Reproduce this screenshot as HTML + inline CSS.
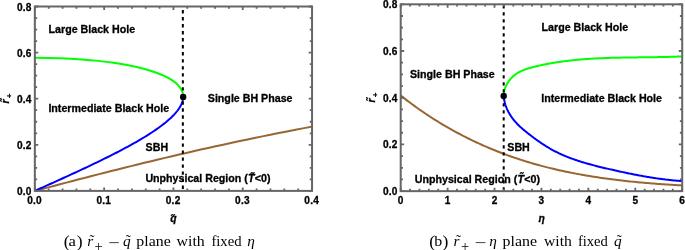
<!DOCTYPE html>
<html><head><meta charset="utf-8"><title>phase diagrams</title>
<style>
html,body{margin:0;padding:0;background:#fff;}
svg{display:block;}
.b{font-family:"Liberation Sans",sans-serif;font-weight:bold;fill:#000;stroke:#000;stroke-width:0.3px;}
.s{font-family:"Liberation Serif",serif;fill:#000;}
.i{font-style:italic;}
</style></head><body>
<svg width="685" height="250" viewBox="0 0 685 250">
<rect width="685" height="250" fill="#fff"/>
<clipPath id="c1"><rect x="34.85" y="6.5" width="277.2" height="184.4"/></clipPath>
<g clip-path="url(#c1)" fill="none" stroke-width="2.0" stroke-linejoin="round">
<path d="M34.85,190.90 L41.13,189.25 L47.41,187.60 L53.69,185.94 L59.99,184.29 L66.30,182.64 L72.63,180.99 L78.98,179.34 L85.36,177.68 L91.76,176.03 L98.20,174.38 L104.67,172.73 L111.18,171.08 L117.73,169.43 L124.32,167.77 L130.97,166.12 L137.67,164.47 L144.42,162.82 L151.23,161.17 L158.10,159.51 L165.04,157.86 L172.04,156.21 L179.11,154.56 L186.26,152.91 L193.48,151.25 L200.78,149.60 L208.17,147.95 L215.64,146.30 L223.19,144.65 L230.83,142.99 L238.57,141.34 L246.40,139.69 L254.32,138.04 L262.35,136.39 L270.48,134.73 L278.71,133.08 L287.04,131.43 L295.49,129.78 L304.04,128.13 L312.70,126.48" stroke="#996633"/>
<path d="M183.16,96.69 L183.15,96.20 L183.12,95.70 L183.08,95.21 L183.02,94.72 L182.95,94.22 L182.85,93.73 L182.74,93.24 L182.61,92.74 L182.46,92.25 L182.29,91.75 L182.11,91.26 L181.90,90.77 L181.67,90.27 L181.43,89.78 L181.16,89.28 L180.87,88.79 L180.56,88.30 L180.23,87.80 L179.87,87.31 L179.50,86.81 L179.10,86.32 L178.67,85.83 L178.22,85.33 L177.75,84.84 L177.25,84.34 L176.73,83.85 L176.18,83.36 L175.60,82.86 L174.99,82.37 L174.36,81.87 L173.69,81.38 L173.00,80.89 L172.27,80.39 L171.52,79.90 L170.73,79.40 L169.91,78.91 L169.05,78.42 L168.16,77.92 L167.23,77.43 L166.27,76.93 L165.26,76.44 L164.22,75.95 L163.14,75.45 L162.01,74.96 L160.84,74.47 L159.62,73.97 L158.36,73.48 L157.04,72.98 L155.68,72.49 L154.26,72.00 L152.79,71.50 L151.25,71.01 L149.66,70.51 L148.00,70.02 L146.28,69.53 L144.48,69.03 L142.61,68.54 L140.66,68.04 L138.63,67.55 L136.50,67.06 L134.28,66.56 L131.95,66.07 L129.52,65.57 L126.96,65.08 L124.27,64.59 L121.44,64.09 L118.45,63.60 L115.27,63.10 L111.90,62.61 L108.30,62.12 L104.43,61.62 L100.24,61.13 L95.68,60.63 L90.64,60.14 L84.99,59.65 L78.47,59.15 L70.64,58.66 L60.27,58.16 L34.85,57.67" stroke="#00ff00"/>
<path d="M34.85,190.90 L37.50,189.71 L40.16,188.52 L42.81,187.32 L45.46,186.13 L48.11,184.94 L50.76,183.75 L53.40,182.55 L56.03,181.36 L58.67,180.17 L61.29,178.98 L63.91,177.78 L66.52,176.59 L69.13,175.40 L71.73,174.21 L74.31,173.01 L76.89,171.82 L79.46,170.63 L82.01,169.44 L84.56,168.24 L87.09,167.05 L89.61,165.86 L92.11,164.67 L94.60,163.47 L97.08,162.28 L99.54,161.09 L101.98,159.90 L104.41,158.70 L106.81,157.51 L109.20,156.32 L111.57,155.13 L113.92,153.93 L116.25,152.74 L118.55,151.55 L120.83,150.36 L123.09,149.16 L125.33,147.97 L127.54,146.78 L129.72,145.59 L131.88,144.39 L134.01,143.20 L136.11,142.01 L138.18,140.82 L140.22,139.62 L142.22,138.43 L144.20,137.24 L146.14,136.05 L148.05,134.85 L149.92,133.66 L151.76,132.47 L153.56,131.28 L155.32,130.08 L157.04,128.89 L158.72,127.70 L160.35,126.51 L161.95,125.31 L163.50,124.12 L165.00,122.93 L166.46,121.74 L167.86,120.54 L169.22,119.35 L170.53,118.16 L171.78,116.97 L172.98,115.77 L174.12,114.58 L175.20,113.39 L176.23,112.20 L177.19,111.00 L178.09,109.81 L178.92,108.62 L179.69,107.43 L180.39,106.23 L181.01,105.04 L181.56,103.85 L182.04,102.66 L182.43,101.46 L182.74,100.27 L182.97,99.08 L183.11,97.89 L183.16,96.69" stroke="#0000ff"/>
</g>
<path d="M182.85,10.0V190.9" stroke="#000" stroke-width="2.0" stroke-dasharray="3.4 3.62" fill="none"/>
<circle cx="183.16" cy="96.89" r="3.2" fill="#000"/>
<path d="M34.85,190.90v-3.4M34.85,6.50v3.4M48.71,190.90v-2.3M48.71,6.50v2.3M62.57,190.90v-2.3M62.57,6.50v2.3M76.43,190.90v-2.3M76.43,6.50v2.3M90.29,190.90v-2.3M90.29,6.50v2.3M104.15,190.90v-3.4M104.15,6.50v3.4M118.01,190.90v-2.3M118.01,6.50v2.3M131.87,190.90v-2.3M131.87,6.50v2.3M145.73,190.90v-2.3M145.73,6.50v2.3M159.59,190.90v-2.3M159.59,6.50v2.3M173.45,190.90v-3.4M173.45,6.50v3.4M187.31,190.90v-2.3M187.31,6.50v2.3M201.17,190.90v-2.3M201.17,6.50v2.3M215.03,190.90v-2.3M215.03,6.50v2.3M228.89,190.90v-2.3M228.89,6.50v2.3M242.75,190.90v-3.4M242.75,6.50v3.4M256.61,190.90v-2.3M256.61,6.50v2.3M270.47,190.90v-2.3M270.47,6.50v2.3M284.33,190.90v-2.3M284.33,6.50v2.3M298.19,190.90v-2.3M298.19,6.50v2.3M312.05,190.90v-3.4M312.05,6.50v3.4M34.85,190.90h3.4M312.05,190.90h-3.4M34.85,179.38h2.3M312.05,179.38h-2.3M34.85,167.85h2.3M312.05,167.85h-2.3M34.85,156.32h2.3M312.05,156.32h-2.3M34.85,144.80h3.4M312.05,144.80h-3.4M34.85,133.28h2.3M312.05,133.28h-2.3M34.85,121.75h2.3M312.05,121.75h-2.3M34.85,110.22h2.3M312.05,110.22h-2.3M34.85,98.70h3.4M312.05,98.70h-3.4M34.85,87.17h2.3M312.05,87.17h-2.3M34.85,75.65h2.3M312.05,75.65h-2.3M34.85,64.12h2.3M312.05,64.12h-2.3M34.85,52.60h3.4M312.05,52.60h-3.4M34.85,41.07h2.3M312.05,41.07h-2.3M34.85,29.55h2.3M312.05,29.55h-2.3M34.85,18.03h2.3M312.05,18.03h-2.3M34.85,6.50h3.4M312.05,6.50h-3.4" stroke="#666666" stroke-width="1.8" fill="none"/>
<rect x="34.85" y="6.50" width="277.20" height="184.40" fill="none" stroke="#666666" stroke-width="2.0"/>
<text class="b" font-size="10.1" letter-spacing="0.25" text-anchor="end" x="31.75" y="194.90">0.0</text>
<text class="b" font-size="10.1" letter-spacing="0.25" text-anchor="end" x="31.75" y="148.80">0.2</text>
<text class="b" font-size="10.1" letter-spacing="0.25" text-anchor="end" x="31.75" y="102.70">0.4</text>
<text class="b" font-size="10.1" letter-spacing="0.25" text-anchor="end" x="31.75" y="56.60">0.6</text>
<text class="b" font-size="10.1" letter-spacing="0.25" text-anchor="end" x="31.75" y="10.50">0.8</text>
<text class="b" font-size="10.1" letter-spacing="0.25" text-anchor="middle" x="34.55" y="203.5">0.0</text>
<text class="b" font-size="10.1" letter-spacing="0.25" text-anchor="middle" x="103.85" y="203.5">0.1</text>
<text class="b" font-size="10.1" letter-spacing="0.25" text-anchor="middle" x="173.15" y="203.5">0.2</text>
<text class="b" font-size="10.1" letter-spacing="0.25" text-anchor="middle" x="242.45" y="203.5">0.3</text>
<text class="b" font-size="10.1" letter-spacing="0.25" text-anchor="middle" x="311.75" y="203.5">0.4</text>
<text class="b" font-size="10.67" x="48.6" y="33.0">Large Black Hole</text>
<text class="b" font-size="10.67" x="48.4" y="111.9">Intermediate Black Hole</text>
<text class="b" font-size="10.67" x="207.8" y="102.3">Single BH Phase</text>
<text class="b" font-size="10.67" x="145.6" y="150.9">SBH</text>
<text class="b" font-size="10.67" x="145.4" y="182.4">Unphysical Region (<tspan class="i" dx="0.2">T</tspan><tspan dx="0.3">&lt;0)</tspan></text>
<text class="b i" font-size="9.5" x="250.3" y="178.6">&#732;</text>
<text class="b i" font-size="10.4" text-anchor="middle" x="173.5" y="221.7">q</text>
<text class="b i" font-size="10.4" text-anchor="middle" x="172.3" y="221.5">&#732;</text>
<g transform="translate(8.6,103.4) rotate(-90)"><text class="b i" font-size="10.4" x="0" y="0">r<tspan font-size="8.0" dy="3.8" dx="1.1" font-style="normal">+</tspan></text><text class="b i" font-size="8.5" x="1.4" y="-1.5">&#732;</text></g>
<clipPath id="c2"><rect x="400.7" y="4.3" width="281.50000000000006" height="186.85"/></clipPath>
<g clip-path="url(#c2)" fill="none" stroke-width="2.0" stroke-linejoin="round">
<path d="M400.83,95.60 L402.42,96.86 L404.01,98.12 L405.62,99.36 L407.22,100.59 L408.84,101.81 L410.46,103.03 L412.08,104.23 L413.72,105.43 L415.36,106.62 L417.00,107.79 L418.65,108.96 L420.31,110.12 L421.97,111.27 L423.64,112.41 L425.31,113.54 L427.00,114.66 L428.68,115.78 L430.37,116.88 L432.07,117.97 L433.77,119.06 L435.48,120.13 L437.20,121.20 L438.91,122.25 L440.64,123.30 L442.37,124.34 L444.10,125.37 L445.85,126.39 L447.59,127.39 L449.34,128.39 L451.10,129.38 L452.86,130.37 L454.63,131.34 L456.40,132.30 L458.17,133.25 L459.95,134.19 L461.74,135.13 L463.53,136.05 L465.32,136.97 L467.12,137.87 L468.93,138.77 L470.74,139.65 L472.55,140.53 L474.37,141.39 L476.19,142.25 L478.02,143.10 L479.85,143.94 L481.69,144.76 L483.53,145.58 L485.37,146.39 L487.22,147.19 L489.07,147.98 L490.93,148.76 L492.79,149.53 L494.65,150.29 L496.52,151.04 L498.39,151.78 L500.27,152.51 L502.15,153.23 L504.03,153.95 L505.92,154.65 L507.81,155.34 L509.70,156.02 L511.60,156.70 L513.50,157.36 L515.41,158.01 L517.31,158.65 L519.23,159.29 L521.14,159.91 L523.06,160.52 L524.98,161.13 L526.90,161.72 L528.83,162.31 L530.76,162.88 L532.70,163.44 L534.63,164.00 L536.57,164.55 L538.51,165.08 L540.46,165.61 L542.41,166.13 L544.36,166.64 L546.31,167.14 L548.26,167.63 L550.22,168.11 L552.18,168.59 L554.14,169.05 L556.11,169.51 L558.07,169.96 L560.04,170.40 L562.01,170.83 L563.98,171.26 L565.96,171.67 L567.93,172.08 L569.91,172.48 L571.89,172.88 L573.87,173.26 L575.86,173.64 L577.84,174.02 L579.83,174.38 L581.81,174.74 L583.80,175.09 L585.79,175.43 L587.78,175.77 L589.78,176.10 L591.77,176.42 L593.76,176.74 L595.76,177.05 L597.76,177.35 L599.75,177.65 L601.75,177.94 L603.75,178.22 L605.75,178.50 L607.75,178.77 L609.75,179.04 L611.75,179.30 L613.76,179.56 L615.76,179.81 L617.76,180.05 L619.77,180.29 L621.77,180.53 L623.78,180.75 L625.79,180.98 L627.79,181.20 L629.80,181.41 L631.80,181.62 L633.81,181.82 L635.82,182.02 L637.83,182.21 L639.83,182.40 L641.84,182.59 L643.85,182.77 L645.86,182.94 L647.86,183.11 L649.87,183.28 L651.88,183.45 L653.89,183.61 L655.89,183.76 L657.90,183.91 L659.91,184.06 L661.91,184.20 L663.92,184.35 L665.92,184.48 L667.93,184.62 L669.93,184.75 L671.94,184.87 L673.94,185.00 L675.94,185.12 L677.95,185.24 L679.95,185.35 L681.95,185.46" stroke="#996633"/>
<path d="M503.67,95.84 L503.70,94.86 L503.77,93.87 L503.89,92.90 L504.04,91.93 L504.24,90.97 L504.48,90.01 L504.76,89.07 L505.07,88.14 L505.42,87.22 L505.80,86.32 L506.21,85.42 L506.66,84.55 L507.14,83.68 L507.65,82.84 L508.19,82.01 L508.75,81.20 L509.34,80.41 L509.96,79.63 L510.60,78.88 L511.27,78.16 L511.95,77.45 L512.66,76.77 L513.38,76.11 L514.13,75.48 L514.89,74.87 L515.67,74.30 L516.46,73.74 L517.27,73.22 L518.09,72.72 L518.92,72.24 L519.77,71.79 L520.63,71.35 L521.50,70.94 L522.37,70.55 L523.26,70.18 L524.16,69.82 L525.07,69.48 L525.98,69.15 L526.91,68.84 L527.83,68.54 L528.77,68.26 L529.70,67.98 L530.65,67.72 L531.59,67.46 L532.54,67.21 L533.49,66.97 L534.45,66.73 L535.40,66.50 L536.36,66.27 L537.31,66.05 L538.27,65.83 L539.22,65.62 L540.18,65.40 L541.13,65.20 L542.09,64.99 L543.05,64.79 L544.01,64.59 L544.97,64.40 L545.92,64.21 L546.88,64.03 L547.84,63.84 L548.80,63.67 L549.76,63.49 L550.73,63.32 L551.69,63.15 L552.65,62.98 L553.61,62.82 L554.57,62.66 L555.54,62.51 L556.50,62.36 L557.46,62.21 L558.43,62.06 L559.39,61.92 L560.36,61.78 L561.32,61.65 L562.29,61.51 L563.25,61.38 L564.22,61.25 L565.19,61.13 L566.15,61.01 L567.12,60.89 L568.09,60.77 L569.06,60.66 L570.03,60.55 L570.99,60.44 L571.96,60.34 L572.93,60.23 L573.90,60.13 L574.87,60.04 L575.84,59.94 L576.81,59.85 L577.78,59.76 L578.75,59.67 L579.72,59.58 L580.70,59.50 L581.67,59.42 L582.64,59.34 L583.61,59.27 L584.58,59.19 L585.56,59.12 L586.53,59.05 L587.50,58.98 L588.48,58.92 L589.45,58.85 L590.42,58.79 L591.40,58.73 L592.37,58.67 L593.34,58.61 L594.32,58.56 L595.29,58.51 L596.27,58.46 L597.24,58.41 L598.22,58.36 L599.19,58.31 L600.17,58.27 L601.15,58.22 L602.12,58.18 L603.10,58.14 L604.07,58.10 L605.05,58.07 L606.03,58.03 L607.00,58.00 L607.98,57.96 L608.96,57.93 L609.93,57.90 L610.91,57.87 L611.89,57.84 L612.86,57.81 L613.84,57.79 L614.82,57.76 L615.80,57.74 L616.77,57.72 L617.75,57.69 L618.73,57.67 L619.71,57.65 L620.68,57.63 L621.66,57.61 L622.64,57.59 L623.62,57.57 L624.59,57.56 L625.57,57.54 L626.55,57.53 L627.53,57.51 L628.51,57.50 L629.48,57.48 L630.46,57.47 L631.44,57.45 L632.42,57.44 L633.40,57.43 L634.37,57.42 L635.35,57.40 L636.33,57.39 L637.31,57.38 L638.29,57.37 L639.26,57.36 L640.24,57.34 L641.22,57.33 L642.20,57.32 L643.17,57.31 L644.15,57.30 L645.13,57.29 L646.11,57.28 L647.08,57.26 L648.06,57.25 L649.04,57.24 L650.02,57.23 L650.99,57.21 L651.97,57.20 L652.95,57.19 L653.92,57.17 L654.90,57.16 L655.88,57.14 L656.85,57.13 L657.83,57.11 L658.80,57.09 L659.78,57.08 L660.76,57.06 L661.73,57.04 L662.71,57.02 L663.68,57.00 L664.66,56.98 L665.63,56.95 L666.61,56.93 L667.58,56.91 L668.56,56.88 L669.53,56.85 L670.50,56.83 L671.48,56.80 L672.45,56.77 L673.42,56.74 L674.40,56.71 L675.37,56.67 L676.34,56.64 L677.32,56.60 L678.29,56.57 L679.26,56.53 L680.23,56.49 L681.20,56.45 L682.17,56.40" stroke="#00ff00"/>
<path d="M503.68,95.68 L503.78,96.79 L503.90,97.88 L504.05,98.96 L504.23,100.03 L504.44,101.08 L504.68,102.13 L504.95,103.16 L505.24,104.19 L505.55,105.20 L505.89,106.19 L506.26,107.18 L506.65,108.16 L507.06,109.12 L507.50,110.07 L507.96,111.01 L508.43,111.94 L508.93,112.86 L509.45,113.76 L509.99,114.66 L510.55,115.54 L511.13,116.41 L511.73,117.27 L512.34,118.12 L512.97,118.95 L513.62,119.77 L514.28,120.58 L514.95,121.38 L515.64,122.17 L516.35,122.95 L517.07,123.71 L517.80,124.46 L518.54,125.21 L519.29,125.94 L520.06,126.66 L520.83,127.37 L521.61,128.08 L522.40,128.77 L523.20,129.46 L524.01,130.14 L524.82,130.82 L525.64,131.49 L526.46,132.15 L527.29,132.81 L528.12,133.46 L528.96,134.12 L529.80,134.76 L530.64,135.41 L531.48,136.05 L532.33,136.69 L533.18,137.33 L534.03,137.96 L534.88,138.59 L535.74,139.21 L536.60,139.84 L537.46,140.45 L538.32,141.07 L539.19,141.68 L540.06,142.28 L540.93,142.88 L541.81,143.47 L542.69,144.06 L543.57,144.64 L544.45,145.21 L545.34,145.78 L546.24,146.34 L547.13,146.89 L548.04,147.43 L548.94,147.97 L549.85,148.50 L550.76,149.02 L551.68,149.53 L552.60,150.04 L553.52,150.53 L554.45,151.02 L555.38,151.50 L556.32,151.97 L557.26,152.44 L558.20,152.90 L559.14,153.34 L560.09,153.79 L561.05,154.22 L562.00,154.65 L562.96,155.07 L563.92,155.49 L564.89,155.89 L565.86,156.30 L566.83,156.69 L567.80,157.08 L568.78,157.46 L569.76,157.84 L570.74,158.21 L571.72,158.57 L572.71,158.93 L573.70,159.29 L574.69,159.63 L575.69,159.98 L576.68,160.31 L577.68,160.65 L578.68,160.97 L579.68,161.30 L580.69,161.61 L581.69,161.93 L582.70,162.24 L583.71,162.54 L584.72,162.84 L585.74,163.14 L586.75,163.43 L587.77,163.72 L588.78,164.01 L589.80,164.29 L590.82,164.57 L591.84,164.84 L592.86,165.11 L593.89,165.38 L594.91,165.65 L595.93,165.91 L596.96,166.17 L597.99,166.43 L599.01,166.68 L600.04,166.94 L601.07,167.19 L602.10,167.44 L603.13,167.68 L604.16,167.93 L605.19,168.17 L606.22,168.41 L607.25,168.65 L608.28,168.89 L609.31,169.13 L610.34,169.37 L611.36,169.60 L612.39,169.84 L613.42,170.07 L614.45,170.30 L615.48,170.53 L616.51,170.76 L617.54,170.99 L618.57,171.22 L619.60,171.45 L620.63,171.67 L621.66,171.89 L622.69,172.12 L623.72,172.34 L624.75,172.56 L625.78,172.77 L626.81,172.99 L627.84,173.20 L628.87,173.42 L629.90,173.63 L630.93,173.84 L631.96,174.04 L632.99,174.25 L634.02,174.45 L635.05,174.65 L636.09,174.85 L637.12,175.05 L638.15,175.25 L639.18,175.44 L640.22,175.63 L641.25,175.82 L642.28,176.01 L643.32,176.19 L644.35,176.38 L645.39,176.56 L646.42,176.74 L647.46,176.91 L648.50,177.08 L649.53,177.26 L650.57,177.42 L651.61,177.59 L652.65,177.75 L653.69,177.91 L654.73,178.07 L655.77,178.23 L656.81,178.38 L657.85,178.53 L658.90,178.67 L659.94,178.82 L660.98,178.96 L662.03,179.10 L663.07,179.23 L664.12,179.36 L665.17,179.49 L666.21,179.62 L667.26,179.74 L668.31,179.86 L669.36,179.98 L670.41,180.09 L671.47,180.20 L672.52,180.31 L673.57,180.41 L674.63,180.51 L675.68,180.60 L676.74,180.70 L677.80,180.79 L678.86,180.87 L679.91,180.95 L680.98,181.03 L682.04,181.11" stroke="#0000ff"/>
</g>
<path d="M503.7,5.15V191.15" stroke="#000" stroke-width="2.0" stroke-dasharray="3.4 3.6" fill="none"/>
<circle cx="503.7" cy="95.9" r="3.2" fill="#000"/>
<path d="M400.70,191.15v-3.4M400.70,4.30v3.4M410.08,191.15v-2.3M410.08,4.30v2.3M419.47,191.15v-2.3M419.47,4.30v2.3M428.85,191.15v-2.3M428.85,4.30v2.3M438.23,191.15v-2.3M438.23,4.30v2.3M447.62,191.15v-3.4M447.62,4.30v3.4M457.00,191.15v-2.3M457.00,4.30v2.3M466.38,191.15v-2.3M466.38,4.30v2.3M475.77,191.15v-2.3M475.77,4.30v2.3M485.15,191.15v-2.3M485.15,4.30v2.3M494.53,191.15v-3.4M494.53,4.30v3.4M503.92,191.15v-2.3M503.92,4.30v2.3M513.30,191.15v-2.3M513.30,4.30v2.3M522.68,191.15v-2.3M522.68,4.30v2.3M532.07,191.15v-2.3M532.07,4.30v2.3M541.45,191.15v-3.4M541.45,4.30v3.4M550.83,191.15v-2.3M550.83,4.30v2.3M560.22,191.15v-2.3M560.22,4.30v2.3M569.60,191.15v-2.3M569.60,4.30v2.3M578.98,191.15v-2.3M578.98,4.30v2.3M588.37,191.15v-3.4M588.37,4.30v3.4M597.75,191.15v-2.3M597.75,4.30v2.3M607.13,191.15v-2.3M607.13,4.30v2.3M616.52,191.15v-2.3M616.52,4.30v2.3M625.90,191.15v-2.3M625.90,4.30v2.3M635.28,191.15v-3.4M635.28,4.30v3.4M644.67,191.15v-2.3M644.67,4.30v2.3M654.05,191.15v-2.3M654.05,4.30v2.3M663.43,191.15v-2.3M663.43,4.30v2.3M672.82,191.15v-2.3M672.82,4.30v2.3M682.20,191.15v-3.4M682.20,4.30v3.4M400.70,191.15h3.4M682.20,191.15h-3.4M400.70,179.47h2.3M682.20,179.47h-2.3M400.70,167.79h2.3M682.20,167.79h-2.3M400.70,156.12h2.3M682.20,156.12h-2.3M400.70,144.44h3.4M682.20,144.44h-3.4M400.70,132.76h2.3M682.20,132.76h-2.3M400.70,121.08h2.3M682.20,121.08h-2.3M400.70,109.40h2.3M682.20,109.40h-2.3M400.70,97.73h3.4M682.20,97.73h-3.4M400.70,86.05h2.3M682.20,86.05h-2.3M400.70,74.37h2.3M682.20,74.37h-2.3M400.70,62.69h2.3M682.20,62.69h-2.3M400.70,51.01h3.4M682.20,51.01h-3.4M400.70,39.33h2.3M682.20,39.33h-2.3M400.70,27.66h2.3M682.20,27.66h-2.3M400.70,15.98h2.3M682.20,15.98h-2.3M400.70,4.30h3.4M682.20,4.30h-3.4" stroke="#666666" stroke-width="1.8" fill="none"/>
<rect x="400.70" y="4.30" width="281.50" height="186.85" fill="none" stroke="#666666" stroke-width="2.0"/>
<text class="b" font-size="10.1" letter-spacing="0.25" text-anchor="end" x="397.75" y="195.15">0.0</text>
<text class="b" font-size="10.1" letter-spacing="0.25" text-anchor="end" x="397.75" y="148.44">0.2</text>
<text class="b" font-size="10.1" letter-spacing="0.25" text-anchor="end" x="397.75" y="101.73">0.4</text>
<text class="b" font-size="10.1" letter-spacing="0.25" text-anchor="end" x="397.75" y="55.01">0.6</text>
<text class="b" font-size="10.1" letter-spacing="0.25" text-anchor="end" x="397.75" y="8.30">0.8</text>
<text class="b" font-size="10.05" text-anchor="middle" x="400.60" y="204.3">0</text>
<text class="b" font-size="10.05" text-anchor="middle" x="447.52" y="204.3">1</text>
<text class="b" font-size="10.05" text-anchor="middle" x="494.43" y="204.3">2</text>
<text class="b" font-size="10.05" text-anchor="middle" x="541.35" y="204.3">3</text>
<text class="b" font-size="10.05" text-anchor="middle" x="588.27" y="204.3">4</text>
<text class="b" font-size="10.05" text-anchor="middle" x="635.18" y="204.3">5</text>
<text class="b" font-size="10.05" text-anchor="middle" x="682.10" y="204.3">6</text>
<text class="b" font-size="10.67" x="541.6" y="31.0">Large Black Hole</text>
<text class="b" font-size="10.67" x="410.0" y="77.8">Single BH Phase</text>
<text class="b" font-size="10.67" x="541.2" y="101.9">Intermediate Black Hole</text>
<text class="b" font-size="10.67" x="507.3" y="150.9">SBH</text>
<text class="b" font-size="10.67" x="414.8" y="182.8">Unphysical Region (<tspan class="i" dx="0.2">T</tspan><tspan dx="0.3">&lt;0)</tspan></text>
<text class="b i" font-size="9.5" x="519.6" y="179.0">&#732;</text>
<text class="b i" font-size="10.4" text-anchor="middle" x="541.6" y="221.6">&#951;</text>
<g transform="translate(374.6,102.4) rotate(-90)"><text class="b i" font-size="10.4" x="0" y="0">r<tspan font-size="8.0" dy="3.8" dx="1.1" font-style="normal">+</tspan></text><text class="b i" font-size="8.5" x="1.4" y="-1.5">&#732;</text></g>
<text class="s" font-size="17.6" x="63.7" y="246.5">(</text>
<text class="s" font-size="15.3" x="68.5" y="246.1" textLength="7.4" lengthAdjust="spacingAndGlyphs">a</text>
<text class="s" font-size="17.6" x="76.7" y="246.5">)</text>
<text class="s i" font-size="15.3" x="87.2" y="246.1">r</text>
<text class="s" font-size="15.3" x="89.6" y="244.9">&#732;</text>
<text class="s" font-size="14.5" x="94.6" y="250.9">+</text>
<text class="s" font-size="15.3" transform="translate(108.2,248.0) scale(1.33,1)">&#8722;</text>
<text class="s i" font-size="15.3" x="123.0" y="246.1">q</text>
<text class="s" font-size="15.3" x="125.8" y="244.9">&#732;</text>
<text class="s" font-size="15.3" x="136.3" y="246.1" textLength="34.4" lengthAdjust="spacingAndGlyphs">plane</text>
<text class="s" font-size="15.3" x="176.6" y="246.1" textLength="28.2" lengthAdjust="spacingAndGlyphs">with</text>
<text class="s" font-size="15.3" x="211.4" y="246.1" textLength="30.2" lengthAdjust="spacingAndGlyphs">fixed</text>
<text class="s i" font-size="15.3" x="247.3" y="246.1">&#951;</text>
<text class="s" font-size="17.6" x="429.3" y="246.5">(</text>
<text class="s" font-size="15.3" x="434.2" y="246.1" textLength="8.0" lengthAdjust="spacingAndGlyphs">b</text>
<text class="s" font-size="17.6" x="442.6" y="246.5">)</text>
<text class="s i" font-size="15.3" x="453.5" y="246.1">r</text>
<text class="s" font-size="15.3" x="455.9" y="244.9">&#732;</text>
<text class="s" font-size="14.5" x="461.0" y="250.9">+</text>
<text class="s" font-size="15.3" transform="translate(474.6,248.0) scale(1.38,1)">&#8722;</text>
<text class="s i" font-size="15.3" x="489.2" y="246.1">&#951;</text>
<text class="s" font-size="15.3" x="502.6" y="246.1" textLength="34.5" lengthAdjust="spacingAndGlyphs">plane</text>
<text class="s" font-size="15.3" x="544.0" y="246.1" textLength="27.9" lengthAdjust="spacingAndGlyphs">with</text>
<text class="s" font-size="15.3" x="577.9" y="246.1" textLength="30.0" lengthAdjust="spacingAndGlyphs">fixed</text>
<text class="s i" font-size="15.3" x="614.0" y="246.1">q</text>
<text class="s" font-size="15.3" x="616.8" y="244.9">&#732;</text>
</svg>
</body></html>
